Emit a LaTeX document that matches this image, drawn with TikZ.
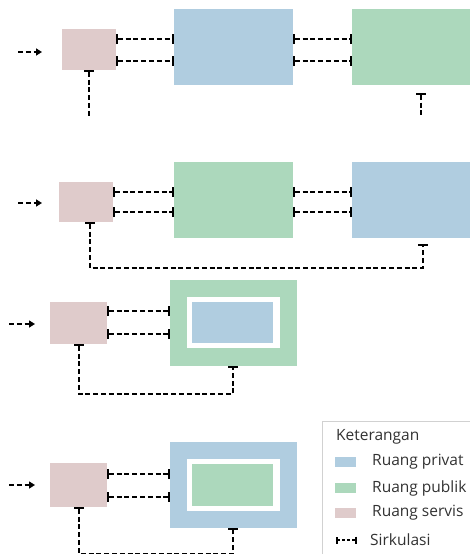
\documentclass[tikz,border=0pt]{standalone}
\usepackage{fontspec}
\setmainfont{Open Sans}
\usetikzlibrary{arrows.meta,calc}
\definecolor{cpriv}{RGB}{176,205,224}
\definecolor{cpub}{RGB}{172,216,188}
\definecolor{cserv}{RGB}{223,203,203}
\definecolor{ctext}{RGB}{50,50,50}
\tikzset{
  room/.style={draw=none,inner sep=0pt,outer sep=0pt},
  privat/.style={room,fill=cpriv},
  publik/.style={room,fill=cpub},
  servis/.style={room,fill=cserv},
  gapbox/.style={room,fill=white},
  circ/.style={line width=2.3pt,dash pattern=on 5pt off 2.8pt},
  link/.style={circ,{Bar[width=10pt,line width=2.4pt]}-{Bar[width=10pt,line width=2.4pt]}},
  linkstart/.style={circ,{Bar[width=10pt,line width=2.4pt]}-},
  entry/.style={circ,-{Triangle[length=6pt,width=7pt]}},
  legtext/.style={anchor=west,inner sep=0pt,text=ctext,font=\fontsize{15.5}{17}\selectfont},
}
\begin{document}
\begin{tikzpicture}[x=1pt,y=-1pt]
\useasboundingbox (0,0) rectangle (470,554);
% ---------- Diagram 1 ----------
\node[servis,minimum width=54,minimum height=41] (s1) at (89,49.5) {};
\node[privat,minimum width=119,minimum height=76] (b1) at (233.5,47) {};
\node[publik,minimum width=119,minimum height=76] (g1) at (411.5,47) {};
\coordinate (a1s) at (18,52); \coordinate (a1e) at (42,52);
\draw[entry] (a1s) -- (a1e);
\coordinate (r1a) at (0,39); \coordinate (r1b) at (0,61);
\draw[link] (s1.east |- r1a) -- (b1.west |- r1a);
\draw[link] (s1.east |- r1b) -- (b1.west |- r1b);
\draw[link] (b1.east |- r1a) -- (g1.west |- r1a);
\draw[link] (b1.east |- r1b) -- (g1.west |- r1b);
\coordinate (v1a) at (89,116);
\draw[linkstart] (s1.south) -- (v1a);
\coordinate (v1t) at (421,93); \coordinate (v1b) at (421,115);
\draw[linkstart] (v1t) -- (v1b);
% ---------- Diagram 2 ----------
\node[servis,minimum width=54,minimum height=40] (s2) at (86,202) {};
\node[publik,minimum width=119,minimum height=76] (g2) at (233.5,200) {};
\node[privat,minimum width=119,minimum height=76] (b2) at (411.5,200) {};
\coordinate (a2s) at (18,203); \coordinate (a2e) at (42,203);
\draw[entry] (a2s) -- (a2e);
\coordinate (r2a) at (0,192); \coordinate (r2b) at (0,212);
\draw[link] (s2.east |- r2a) -- (g2.west |- r2a);
\draw[link] (s2.east |- r2b) -- (g2.west |- r2b);
\draw[link] (g2.east |- r2a) -- (b2.west |- r2a);
\draw[link] (g2.east |- r2b) -- (b2.west |- r2b);
\coordinate (c2a) at (90,222); \coordinate (c2b) at (423,244);
\draw[link] (c2a) -- (90,268) -- (423,268) -- (c2b);
% ---------- Diagram 3 ----------
\node[servis,minimum width=57,minimum height=42] (s3) at (78.5,323) {};
\node[publik,minimum width=127,minimum height=86] (g3) at (233.5,323) {};
\node[gapbox,minimum width=93,minimum height=51] (w3) at (233.5,322.5) {};
\node[privat,minimum width=81,minimum height=41] (b3) at (232.5,322.5) {};
\coordinate (a3s) at (9,324); \coordinate (a3e) at (35,324);
\draw[entry] (a3s) -- (a3e);
\coordinate (r3a) at (0,311); \coordinate (r3b) at (0,334);
\draw[link] (s3.east |- r3a) -- (g3.west |- r3a);
\draw[link] (s3.east |- r3b) -- (g3.west |- r3b);
\coordinate (c3a) at (79,344); \coordinate (c3b) at (233,366);
\draw[link] (c3a) -- (79,394) -- (233,394) -- (c3b);
% ---------- Diagram 4 ----------
\node[servis,minimum width=57,minimum height=44] (s4) at (78.5,485) {};
\node[privat,minimum width=127,minimum height=86] (b4) at (233.5,485) {};
\node[gapbox,minimum width=93,minimum height=52] (w4) at (233.5,485) {};
\node[publik,minimum width=81,minimum height=42] (g4) at (232.5,485) {};
\coordinate (a4s) at (9,485); \coordinate (a4e) at (35,485);
\draw[entry] (a4s) -- (a4e);
\coordinate (r4a) at (0,474); \coordinate (r4b) at (0,497);
\draw[link] (s4.east |- r4a) -- (b4.west |- r4a);
\draw[link] (s4.east |- r4b) -- (b4.west |- r4b);
\coordinate (c4a) at (79,507); \coordinate (c4b) at (233,528);
\draw[link] (c4a) -- (79,553.8) -- (233,553.8) -- (c4b);
% ---------- Legend ----------
\draw[black!18,line width=1pt] (322,557) -- (322,421) -- (473,421);
\node[legtext] (lk) at (336,437) {Keterangan};
\node[privat,minimum width=21,minimum height=10] (lb) at (345.5,462) {};
\node[publik,minimum width=21,minimum height=10] (lg) at (345.5,488) {};
\node[servis,minimum width=21,minimum height=10] (ls) at (345.5,513) {};
\node[legtext] (tb) at (372,462) {Ruang privat};
\node[legtext] (tg) at (372,488) {Ruang publik};
\node[legtext] (ts) at (372,513) {Ruang servis};
\coordinate (lc1) at (336,540); \coordinate (lc2) at (357,540);
\draw[circ,line width=1.6pt,dash pattern=on 3pt off 2pt,{Bar[width=7pt,line width=1.8pt]}-{Bar[width=7pt,line width=1.8pt]}] (lc1) -- (lc2);
\node[legtext] (tc) at (370,540) {Sirkulasi};
\end{tikzpicture}
\end{document}
